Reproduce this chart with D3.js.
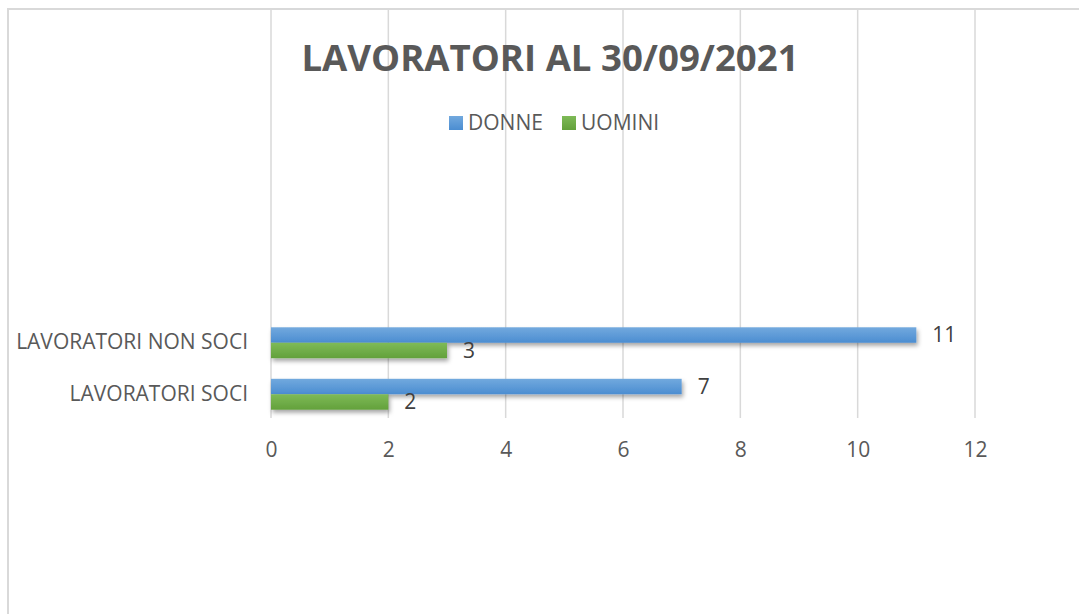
<!DOCTYPE html>
<html>
<head>
<meta charset="utf-8">
<script src="https://cdn.jsdelivr.net/npm/d3@7"></script>
<style>
    body { margin: 0; background: #fff; }
    svg { display: block; }
    text { font-family: "Open Sans", "Noto Sans", sans-serif; }
</style>
</head>
<body>
<svg id="chart" width="1079" height="614"></svg>
<script>
// chart data
const categories = ["LAVORATORI NON SOCI", "LAVORATORI SOCI"];
const seriesNames = ["DONNE", "UOMINI"];
const donne = [11, 7];
const uomini = [3, 2];
const xTicks = [0, 2, 4, 6, 8, 10, 12];
const title = "LAVORATORI AL 30/09/2021";

const colors = {
    DONNE: ["#72a9de", "#4b8dd1"],
    UOMINI: ["#7eba57", "#63a13b"]
};

const svg = d3.select("#chart");
const plotTop = 9, plotBottom = 418;

let rows = categories.map((c, i) => ({cat: c, values: [donne[i], uomini[i]]}));

let x = d3.scaleLinear().domain([0, 12]).range([271, 975]);
let y = d3.scaleBand().domain(categories).range([317, 420])
    .paddingInner(0.4).paddingOuter(0.2);
let ySub = d3.scaleBand().domain(seriesNames).range([0, y.bandwidth()]);

// defs: gradients + shadow
let defs = svg.append("defs");
seriesNames.forEach(s => {
    let g = defs.append("linearGradient")
        .attr("id", "grad-" + s)
        .attr("x1", 0).attr("y1", 0).attr("x2", 0).attr("y2", 1);
    g.append("stop").attr("offset", "0%").attr("stop-color", colors[s][0]);
    g.append("stop").attr("offset", "100%").attr("stop-color", colors[s][1]);
});
defs.append("filter")
    .attr("id", "shadow")
    .attr("x", "-5%").attr("y", "-50%").attr("width", "110%").attr("height", "220%")
    .append("feDropShadow")
    .attr("dx", 1.5).attr("dy", 3)
    .attr("stdDeviation", 2)
    .attr("flood-color", "#000")
    .attr("flood-opacity", 0.35);

// outer frame (chart area is cropped on right/bottom)
svg.append("line")
    .attr("x1", 8).attr("x2", 1079).attr("y1", 9).attr("y2", 9)
    .attr("stroke", "#d9d9d9").attr("stroke-width", 2);
svg.append("line")
    .attr("x1", 8).attr("x2", 8).attr("y1", 8).attr("y2", 614)
    .attr("stroke", "#d9d9d9").attr("stroke-width", 2);

// gridlines
svg.append("g")
    .selectAll("line")
    .data(xTicks)
    .join("line")
    .attr("x1", d => x(d)).attr("x2", d => x(d))
    .attr("y1", plotTop).attr("y2", plotBottom)
    .attr("stroke", "#d9d9d9").attr("stroke-width", 1.5);

// x axis labels
let xAxis = d3.axisBottom(x).tickValues(xTicks).tickSize(0).tickPadding(0);
let xAxisG = svg.append("g")
    .attr("transform", "translate(0," + plotBottom + ")")
    .call(xAxis);
xAxisG.select(".domain").remove();
xAxisG.selectAll("text")
    .attr("dy", null)
    .attr("y", 39)
    .style("font-size", "21px")
    .attr("fill", "#595959");

// category labels
let yAxis = d3.axisLeft(y).tickSize(0).tickPadding(23);
let yAxisG = svg.append("g")
    .attr("transform", "translate(" + x(0) + ",0)")
    .call(yAxis);
yAxisG.select(".domain").remove();
yAxisG.selectAll("text")
    .style("font-size", "21px")
    .attr("fill", "#595959");

// bars
let groups = svg.append("g")
    .selectAll("g")
    .data(rows)
    .join("g")
    .attr("transform", d => "translate(0," + y(d.cat) + ")");

groups.selectAll("rect")
    .data(d => d.values.map((v, i) => ({series: seriesNames[i], value: v})))
    .join("rect")
    .attr("x", x(0))
    .attr("y", d => ySub(d.series))
    .attr("width", d => x(d.value) - x(0))
    .attr("height", ySub.bandwidth())
    .attr("fill", d => "url(#grad-" + d.series + ")")
    .attr("filter", "url(#shadow)");

groups.selectAll("text.val")
    .data(d => d.values.map((v, i) => ({series: seriesNames[i], value: v})))
    .join("text")
    .attr("class", "val")
    .attr("x", d => x(d.value) + 16)
    .attr("y", d => ySub(d.series) + ySub.bandwidth() / 2)
    .attr("dy", "0.35em")
    .style("font-size", "21px")
    .attr("fill", "#404040")
    .text(d => d.value);

// title
svg.append("text")
    .attr("x", 550).attr("y", 71)
    .attr("text-anchor", "middle")
    .style("font-size", "36.6px")
    .style("font-weight", "bold")
    .attr("fill", "#595959")
    .text(title);

// legend
let legend = svg.append("g").attr("transform", "translate(449,116)");
let legendX = [0, 113];
seriesNames.forEach((s, i) => {
    let item = legend.append("g").attr("transform", "translate(" + legendX[i] + ",0)");
    item.append("rect")
        .attr("width", 14).attr("height", 14)
        .attr("fill", "url(#grad-" + s + ")");
    item.append("text")
        .attr("x", 19).attr("y", 7)
        .attr("dy", "0.35em")
        .style("font-size", "21px")
        .attr("fill", "#595959")
        .text(s);
});
</script>
</body>
</html>
